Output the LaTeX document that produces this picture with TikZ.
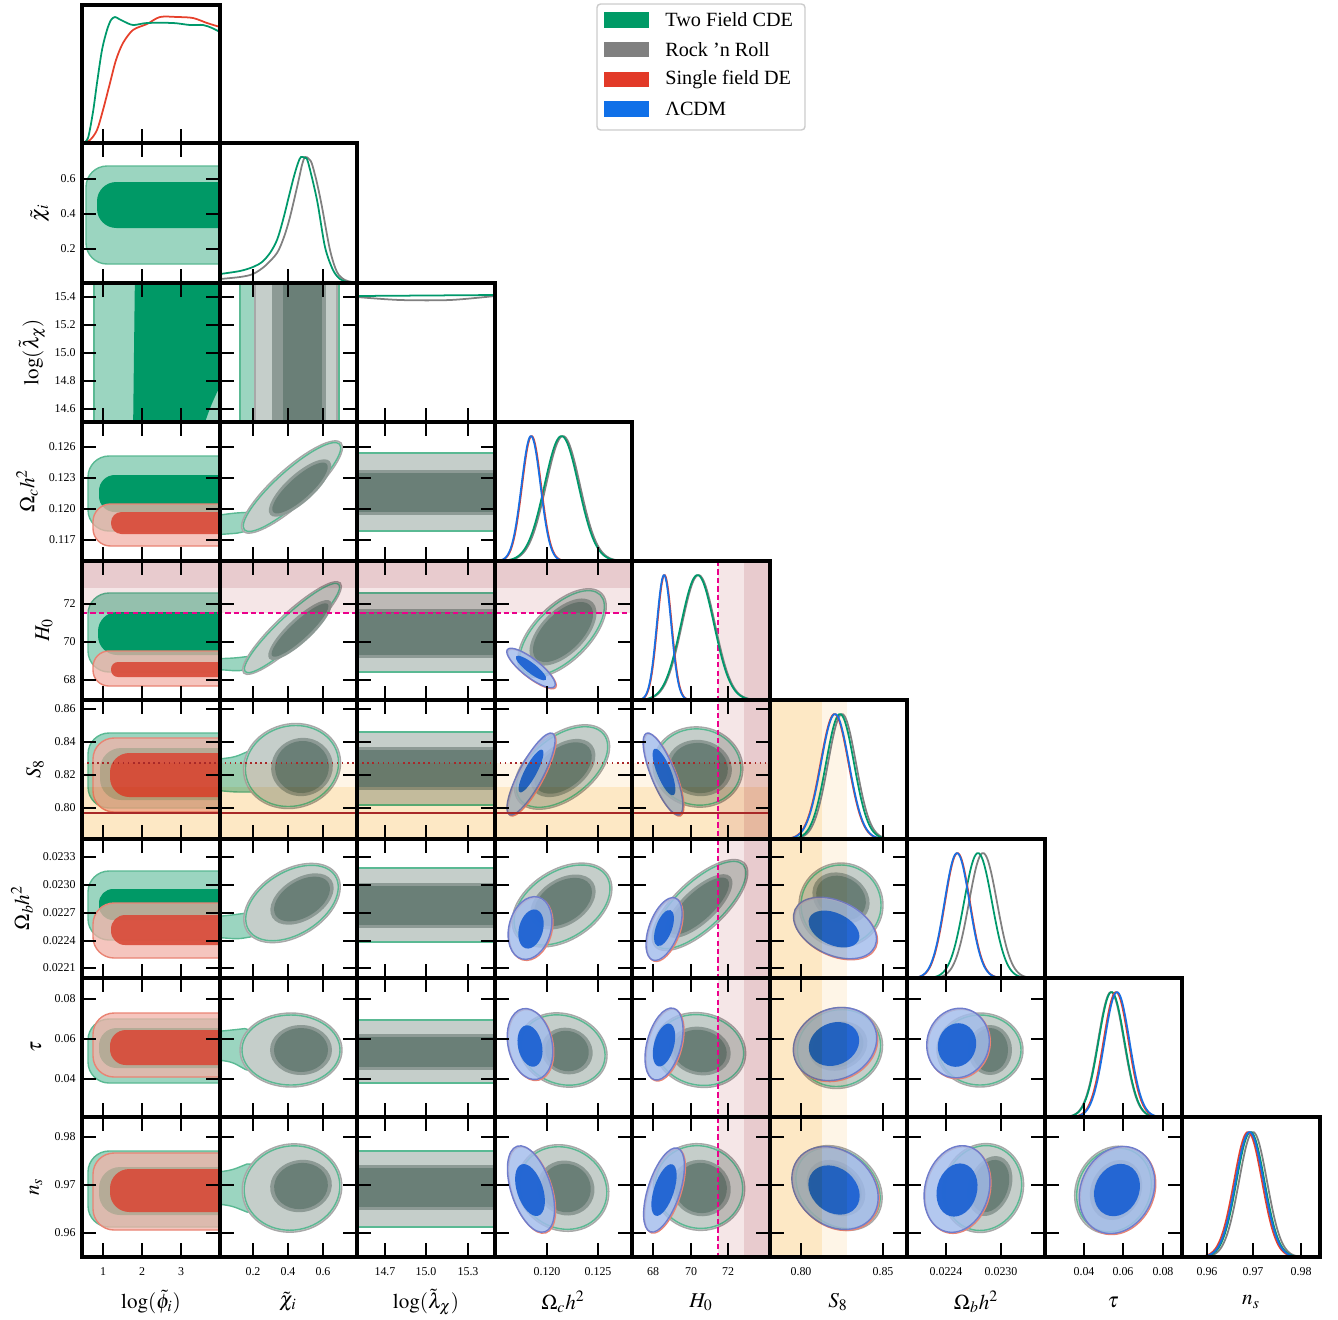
\documentclass[tikz,border=0pt]{standalone}
\usepackage{mathptmx}
\usepackage{fontspec}
\setmainfont{Liberation Serif}

\definecolor{gL}{HTML}{9BD5C0}
\definecolor{gD}{HTML}{009966}
\definecolor{gE}{HTML}{5AB993}
\definecolor{kL}{HTML}{C5CECA}
\definecolor{kE}{HTML}{A8A8A8}
\definecolor{kM}{HTML}{8D9A95}
\definecolor{kD}{HTML}{6A7F77}
\definecolor{rL}{HTML}{F2B2A8}
\definecolor{rD}{HTML}{D94A38}
\definecolor{rE}{HTML}{E98474}
\definecolor{bL}{HTML}{A2BCEC}
\definecolor{bD}{HTML}{1E63D3}
\definecolor{bE}{HTML}{6F7DCC}
\definecolor{gC}{HTML}{00996B}
\definecolor{kC}{HTML}{808080}
\definecolor{rC}{HTML}{E6402B}
\definecolor{bC}{HTML}{1A6FE3}
\definecolor{roseD}{HTML}{E8CBCE}
\definecolor{roseL}{HTML}{F5E6E7}
\definecolor{orng}{HTML}{FDE8C5}
\definecolor{crm}{HTML}{FEF5E7}
\definecolor{s8red}{HTML}{A82828}
\definecolor{lgG}{HTML}{009A66}
\definecolor{lgK}{HTML}{808080}
\definecolor{lgR}{HTML}{E23A28}
\definecolor{lgB}{HTML}{1070E8}

\tikzset{
  gout/.style={fill=gL, draw=gE, line width=0.8pt},
  gin/.style={fill=gD},
  kout/.style={fill=kL, draw=kE, line width=0.8pt},
  gedge/.style={draw=gE, line width=0.8pt},
  kring/.style={fill=kM},
  kin/.style={fill=kD},
  rout/.style={fill=rL, fill opacity=0.75, draw=rE, line width=0.8pt},
  rin/.style={fill=rD, fill opacity=0.9},
  redge/.style={draw=rE, line width=0.8pt},
  bout/.style={fill=bL, fill opacity=0.82, draw=bE, line width=0.8pt},
  bin/.style={fill=bD, fill opacity=0.95},
  tk/.style={line width=1.3pt},
  pframe/.style={line width=2pt},
  pline/.style={line width=1pt},
  ticklab/.style={font=\fontsize{6.8}{8}\selectfont, inner sep=0pt},
  axlab/.style={font=\fontsize{12}{14}\selectfont, inner sep=0pt},
  lgtext/.style={font=\fontsize{11.5}{13}\selectfont, anchor=west, inner sep=0pt},
}

% ellipse: style, cx, cy, rx, ry, angle
\newcommand{\elli}[6]{\path[#1, rotate around={#6:(#2,#3)}] (#2,#3) ellipse [x radius={#4}, y radius={#5}];}
% grey/green pair: outer cx cy rx ry angle, inner cx cy rx ry
\newcommand{\kgpair}[9]{\elli{kout}{#1}{#2}{#3}{#4}{#5}\elli{gedge}{#1}{#2}{#3-2}{#4-2}{#5}\elli{kring}{#6}{#7}{#8+4}{#9+3}{#5}\elli{kin}{#6}{#7}{#8}{#9}{#5}}
% blue/red pair
\newcommand{\blpair}[9]{\elli{redge}{#1+1}{#2+1}{#3}{#4}{#5}\elli{bout}{#1}{#2}{#3}{#4}{#5}\elli{bin}{#6}{#7}{#8}{#9}{#5}}
% flat band in the log(lambda) column
\newcommand{\kband}[4]{\path[kout, draw=gE] (350,#1) rectangle (502,#2); \path[kring] (350,#3-3) rectangle (502,#4+3); \path[kin] (350,#3) rectangle (502,#4);}
% 1d marginal: style, bottom, mean, sigma
\newcommand{\gcurve}[4]{\draw[#1] plot[domain=#3-4*#4:#3+4*#4, samples=80, smooth] (\x,{#2-125*exp(-0.5*((\x-#3)/#4)^2)});}

\begin{document}
\begin{tikzpicture}[x=0.02cm, y=-0.02cm]
\useasboundingbox (0,0) rectangle (1338,1319);

% column 1: log(phi)
\begin{scope}\clip (82,143) rectangle (220,283);
  \path[gout, rounded corners=12pt] (86,166) rectangle (240,264);
  \path[gin, rounded corners=11pt] (97,182) rectangle (240,228);
\end{scope}
\begin{scope}\clip (82,283) rectangle (220,422);
  \path[gout] (94,270) rectangle (240,435);
  \path[gin] (135,270) -- (133,435) -- (201,435) .. controls (210,405) and (217,392) .. (222,383) -- (240,383) -- (240,270) -- cycle;
\end{scope}
\begin{scope}\clip (82,422) rectangle (220,561);
  \path[gout, rounded corners=12pt] (88,456) rectangle (240,531);
  \path[gin, rounded corners=9pt] (99,475) rectangle (240,512);
  \path[rout, rounded corners=10pt] (93,504) rectangle (240,546);
  \path[rin, rounded corners=6pt] (111,512) rectangle (240,534);
\end{scope}
\begin{scope}\clip (82,561) rectangle (220,700);
  \path[gout, rounded corners=12pt] (88,593) rectangle (240,672);
  \path[gin, rounded corners=11pt] (98,612) rectangle (240,655);
  \path[rout, rounded corners=9pt] (93,651) rectangle (240,686);
  \path[rin, rounded corners=4pt] (111,662) rectangle (240,677);
\end{scope}
\begin{scope}\clip (82,700) rectangle (220,839);
  \path[gout, rounded corners=12pt] (88,733) rectangle (240,808);
  \path[gin, rounded corners=12pt] (100,748) rectangle (240,800);
  \path[rout, rounded corners=12pt] (93,738) rectangle (240,812);
  \path[rin, rounded corners=11pt] (110,753) rectangle (240,797);
\end{scope}
\begin{scope}\clip (82,839) rectangle (220,978);
  \path[gout, rounded corners=12pt] (88,871) rectangle (240,940);
  \path[gin, rounded corners=8pt] (99,889) rectangle (240,920);
  \path[rout, rounded corners=12pt] (93,903) rectangle (240,958);
  \path[rin, rounded corners=8pt] (111,915) rectangle (240,945);
\end{scope}
\begin{scope}\clip (82,978) rectangle (220,1117);
  \path[gout, rounded corners=12pt] (88,1019) rectangle (240,1083);
  \path[gin, rounded corners=10pt] (99,1028) rectangle (240,1068);
  \path[rout, rounded corners=12pt] (93,1013) rectangle (240,1077);
  \path[rin, rounded corners=9pt] (110,1030) rectangle (240,1065);
\end{scope}
\begin{scope}\clip (82,1117) rectangle (220,1257);
  \path[gout, rounded corners=12pt] (88,1151) rectangle (240,1227);
  \path[gin, rounded corners=12pt] (99,1167) rectangle (240,1215);
  \path[rout, rounded corners=12pt] (93,1153) rectangle (240,1230);
  \path[rin, rounded corners=11pt] (110,1169) rectangle (240,1212);
\end{scope}

% column 2: chi
\begin{scope}\clip (220,283) rectangle (357,422);
  \path[gout] (240,270) rectangle (339,435);
  \path[kout] (255,270) rectangle (337,435);
  \path[kring] (272,270) rectangle (326,435);
  \path[kin] (283,270) rectangle (322,435);
\end{scope}
\begin{scope}\clip (220,422) rectangle (357,561);
  \path[gout, rounded corners=3pt] (212,516) -- (235,513) -- (254,512) -- (260,526) -- (240,533) -- (212,535) -- cycle;
  \kgpair{292}{487}{66}{18}{42}{300}{488}{36}{11}
\end{scope}
\begin{scope}\clip (220,561) rectangle (357,700);
  \path[gout, rounded corners=3pt] (212,659) -- (235,658) -- (252,656) -- (258,668) -- (238,671) -- (212,669) -- cycle;
  \kgpair{292}{628}{66}{15}{43}{300}{630}{38}{9}
\end{scope}
\begin{scope}\clip (220,700) rectangle (357,839);
  \path[gout, rounded corners=3pt] (212,760) -- (235,757) -- (256,748) -- (256,792) -- (235,792) -- (212,790) -- cycle;
  \kgpair{292}{766}{49}{42}{15}{302}{767}{27}{26}
\end{scope}
\begin{scope}\clip (220,839) rectangle (357,978);
  \path[gout, rounded corners=3pt] (212,917) -- (232,915) -- (254,912) -- (256,936) -- (238,939) -- (212,937) -- cycle;
  \kgpair{292}{903}{53}{33}{32}{302}{899}{31}{18}
\end{scope}
\begin{scope}\clip (220,978) rectangle (357,1117);
  \path[gout, rounded corners=3pt] (212,1032) -- (232,1030) -- (250,1028) -- (250,1072) -- (232,1062) -- (212,1059) -- cycle;
  \kgpair{291}{1050}{51}{37}{0}{301}{1050}{27}{22}
\end{scope}
\begin{scope}\clip (220,1117) rectangle (357,1257);
  \path[gout, rounded corners=3pt] (212,1173) -- (232,1170) -- (252,1162) -- (252,1214) -- (232,1206) -- (212,1203) -- cycle;
  \kgpair{292}{1188}{50}{44}{10}{301}{1186}{27}{23}
\end{scope}

% column 3: log(lambda)
\begin{scope}\clip (357,422) rectangle (495,561); \kband{453}{531}{473}{512} \end{scope}
\begin{scope}\clip (357,561) rectangle (495,700); \kband{593}{672}{612}{655} \end{scope}
\begin{scope}\clip (357,700) rectangle (495,839); \kband{732}{805}{750}{787} \end{scope}
\begin{scope}\clip (357,839) rectangle (495,978); \kband{868}{942}{886}{925} \end{scope}
\begin{scope}\clip (357,978) rectangle (495,1117); \kband{1020}{1083}{1037}{1067} \end{scope}
\begin{scope}\clip (357,1117) rectangle (495,1257); \kband{1151}{1227}{1168}{1207} \end{scope}

% column 4: Omega_c h^2
\begin{scope}\clip (495,561) rectangle (632,700);
  \kgpair{562}{633}{56}{28}{45}{563}{632}{38}{19}
  \blpair{531}{668}{30}{9}{-38}{531}{668}{19}{5}
\end{scope}
\begin{scope}\clip (495,700) rectangle (632,839);
  \kgpair{562}{767}{55}{32}{38}{563}{768}{33}{20}
  \blpair{531}{774}{46}{12}{62}{531}{771}{24}{6}
\end{scope}
\begin{scope}\clip (495,839) rectangle (632,978);
  \kgpair{562}{905}{55}{35}{33}{563}{902}{32}{20}
  \blpair{530}{928}{32}{21}{75}{531}{929}{20}{12}
\end{scope}
\begin{scope}\clip (495,978) rectangle (632,1117);
  \kgpair{563}{1050}{45}{36}{-20}{567}{1051}{22}{20}
  \blpair{530}{1044}{36}{22}{102}{530}{1046}{21}{12}
\end{scope}
\begin{scope}\clip (495,1117) rectangle (632,1257);
  \kgpair{563}{1188}{47}{42}{-30}{566}{1188}{25}{24}
  \blpair{531}{1189}{45}{20}{108}{530}{1190}{27}{13}
\end{scope}

% column 5: H0
\begin{scope}\clip (632,700) rectangle (770,839);
  \kgpair{698}{767}{45}{40}{-10}{699}{768}{29}{25}
  \blpair{663}{774}{44}{12}{112}{664}{772}{25}{7}
\end{scope}
\begin{scope}\clip (632,839) rectangle (770,978);
  \kgpair{700}{905}{61}{25}{43}{699}{906}{39}{14}
  \blpair{664}{929}{33}{15}{70}{664}{928}{19}{8}
\end{scope}
\begin{scope}\clip (632,978) rectangle (770,1117);
  \kgpair{700}{1050}{46}{37}{-12}{700}{1051}{27}{21}
  \blpair{664}{1044}{37}{17}{75}{664}{1045}{22}{10}
\end{scope}
\begin{scope}\clip (632,1117) rectangle (770,1257);
  \kgpair{699}{1187}{46}{43}{-20}{701}{1188}{26}{25}
  \blpair{664}{1190}{44}{16}{72}{664}{1190}{27}{10}
\end{scope}

% column 6: S8
\begin{scope}\clip (770,839) rectangle (907,978);
  \kgpair{841}{905}{42}{42}{-30}{841}{898}{26}{21}
  \blpair{835}{928}{44}{27}{-25}{834}{929}{27}{16}
\end{scope}
\begin{scope}\clip (770,978) rectangle (907,1117);
  \kgpair{839}{1048}{44}{40}{20}{838}{1046}{26}{21}
  \blpair{835}{1044}{43}{35}{25}{834}{1044}{26}{21}
\end{scope}
\begin{scope}\clip (770,1117) rectangle (907,1257);
  \kgpair{838}{1188}{48}{38}{-40}{836}{1188}{28}{22}
  \blpair{835}{1188}{47}{37}{-40}{834}{1190}{28}{22}
\end{scope}

% column 7: Omega_b h^2
\begin{scope}\clip (907,978) rectangle (1045,1117);
  \kgpair{980}{1050}{43}{37}{0}{990}{1050}{18}{22}
  \blpair{958}{1043}{35}{31}{75}{957}{1045}{22}{19}
\end{scope}
\begin{scope}\clip (907,1117) rectangle (1045,1257);
  \kgpair{983}{1188}{45}{40}{70}{990}{1186}{27}{18}
  \blpair{957}{1189}{44}{32}{75}{957}{1190}{27}{20}
\end{scope}

% column 8: tau
\begin{scope}\clip (1045,1117) rectangle (1182,1257);
  \kgpair{1114}{1190}{45}{38}{65}{1116}{1190}{27}{22}
  \blpair{1117}{1190}{45}{36}{65}{1117}{1190}{27}{22}
\end{scope}

% H0 and S8 priors
\begin{scope}[blend mode=multiply]
  \fill[roseD] (82,561) rectangle (632,588);
  \fill[roseL] (82,588) rectangle (632,613);
  \fill[roseL] (718,561) rectangle (744,1257);
  \fill[roseD] (744,561) rectangle (770,1257);
  \fill[crm] (82,763) rectangle (770,787);
  \fill[orng] (82,787) rectangle (770,839);
  \fill[orng] (770,700) rectangle (822,1257);
  \fill[crm] (822,700) rectangle (847,1257);
\end{scope}
\draw[s8red, line width=1.1pt] (82,813) -- (770,813);
\draw[s8red, dotted, line width=0.9pt] (82,763) -- (770,763);
\draw[magenta, dash pattern=on 3pt off 1.8pt, line width=0.7pt] (82,613) -- (632,613);
\draw[magenta, dash pattern=on 3pt off 1.8pt, line width=0.7pt] (718,561) -- (718,1257);

% diagonal: 1d marginals
\begin{scope}\clip (82,5) rectangle (220,143);
  \draw[rC, pline] plot[smooth] coordinates {(82,143) (90,140) (97,130) (103,110) (110,83) (116,60) (123,43) (133,30) (147,24) (160,17) (177,17) (193,18) (207,23) (220,27)};
  \draw[gC, pline] plot[smooth] coordinates {(83,143) (88,138) (93,112) (97,83) (102,50) (107,30) (111,20) (115,17) (119,19) (123,21) (133,25) (147,23) (173,23) (190,25) (203,25) (212,28) (220,32)};
\end{scope}
\begin{scope}\clip (220,143) rectangle (357,283);
  \draw[kC, pline] plot[smooth] coordinates {(220,279) (240,277) (253,274) (265,266) (277,253) (284,237) (290,217) (298,183) (302,165) (305,157) (309,159) (312,164) (317,183) (322,207) (330,250) (337,272) (345,280) (357,283)};
  \draw[gC, pline] plot[smooth] coordinates {(220,274) (240,271) (253,267) (262,262) (270,253) (277,240) (283,220) (293,180) (298,163) (301,157) (305,158) (308,162) (317,200) (325,247) (333,270) (340,279) (347,282) (357,283)};
\end{scope}
\begin{scope}\clip (357,283) rectangle (495,422);
  \draw[kC, pline] plot[smooth] coordinates {(357,297) (400,300) (450,300) (495,296)};
  \draw[gC, pline] (357,296) -- (495,295);
\end{scope}
\begin{scope}\clip (495,422) rectangle (632,561);
  \gcurve{kC, pline}{561}{563}{17}
  \gcurve{gC, pline}{561}{561.5}{17}
  \gcurve{rC, pline}{561}{531.6}{9.5}
  \gcurve{bC, pline}{561}{531}{9.5}
\end{scope}
\begin{scope}\clip (632,561) rectangle (770,700);
  \gcurve{kC, pline}{700}{698.5}{16.5}
  \gcurve{gC, pline}{700}{697.5}{16.5}
  \gcurve{rC, pline}{700}{664.5}{7.2}
  \gcurve{bC, pline}{700}{664}{7.2}
\end{scope}
\begin{scope}\clip (770,700) rectangle (907,839);
  \gcurve{kC, pline}{839}{842}{14}
  \gcurve{gC, pline}{839}{840}{14}
  \gcurve{rC, pline}{839}{834.5}{14}
  \gcurve{bC, pline}{839}{835}{14}
\end{scope}
\begin{scope}\clip (907,839) rectangle (1045,978);
  \gcurve{kC, pline}{978}{983}{14}
  \gcurve{gC, pline}{978}{978}{14}
  \gcurve{rC, pline}{978}{957.5}{12.5}
  \gcurve{bC, pline}{978}{957}{12.5}
\end{scope}
\begin{scope}\clip (1045,978) rectangle (1182,1117);
  \gcurve{kC, pline}{1117}{1111}{13}
  \gcurve{gC, pline}{1117}{1111.5}{13}
  \gcurve{rC, pline}{1117}{1116}{12.5}
  \gcurve{bC, pline}{1117}{1117}{12.5}
\end{scope}
\begin{scope}\clip (1182,1117) rectangle (1320,1257);
  \gcurve{kC, pline}{1257}{1253}{14}
  \gcurve{gC, pline}{1257}{1250.5}{14}
  \gcurve{rC, pline}{1257}{1248}{14}
  \gcurve{bC, pline}{1257}{1249.5}{14}
\end{scope}

% ticks and frames
\foreach \c/\xa/\xb/\xt in {1/82/220/{103,142,181},2/220/357/{253,288,323},3/357/495/{385,426,468},4/495/632/{547,598},5/632/770/{653,691,728},6/770/907/{801,883},7/907/1045/{946,1001},8/1045/1182/{1084,1123,1163},9/1182/1320/{1207,1253,1301}}{
  \foreach \r/\ya/\yb/\yt in {1/5/143/{0},2/143/283/{179,214,249},3/283/422/{297,325,353,381,409},4/422/561/{447,478,509,540},5/561/700/{604,642,680},6/700/839/{709,742,775,808},7/839/978/{857,885,913,941,968},8/978/1117/{999,1039,1079},9/1117/1257/{1137,1185,1233}}{
    \ifnum\r>\c
      \foreach \t in \xt {\draw[tk] (\t,\ya) -- ++(0,14); \draw[tk] (\t,\yb) -- ++(0,-14);}
      \foreach \t in \yt {\draw[tk] (\xa,\t) -- ++(14,0); \draw[tk] (\xb,\t) -- ++(-14,0);}
      \draw[pframe] (\xa,\ya) rectangle (\xb,\yb);
    \fi
    \ifnum\r=\c
      \foreach \t in \xt {\draw[tk] (\t,\yb) -- ++(0,-14);}
      \draw[pframe] (\xa,\ya) rectangle (\xb,\yb);
    \fi
  }
}

% tick labels
\foreach \x/\lab [count=\i] in {103/1,142/2,181/3,253/0.2,288/0.4,323/0.6,385/14.7,426/15.0,468/15.3,547/0.120,598/0.125,653/68,691/70,728/72,801/0.80,883/0.85,946/0.0224,1001/0.0230,1084/0.04,1123/0.06,1163/0.08,1207/0.96,1253/0.97,1301/0.98}
  {\node[ticklab, anchor=base] (bt\i) at (\x,1275) {\lab};}
\foreach \y/\lab [count=\i] in {179/0.6,214/0.4,249/0.2,297/15.4,325/15.2,353/15.0,381/14.8,409/14.6,447/0.126,478/0.123,509/0.120,540/0.117,604/72,642/70,680/68,709/0.86,742/0.84,775/0.82,808/0.80,857/0.0233,885/0.0230,913/0.0227,941/0.0224,968/0.0221,999/0.08,1039/0.06,1079/0.04,1137/0.98,1185/0.97,1233/0.96}
  {\node[ticklab, anchor=east] (lt\i) at (76,\y) {\lab};}

% axis labels
\node[axlab] (xlPhi) at (151,1302) {$\log(\tilde{\phi}_i)$};
\node[axlab] (xlChi) at (288,1302) {$\tilde{\chi}_i$};
\node[axlab] (xlLam) at (426,1302) {$\log(\tilde{\lambda}_\chi)$};
\node[axlab] (xlOc) at (563,1302) {$\Omega_c h^2$};
\node[axlab] (xlH) at (701,1302) {$H_0$};
\node[axlab] (xlS) at (838,1302) {$S_8$};
\node[axlab] (xlOb) at (976,1302) {$\Omega_b h^2$};
\node[axlab] (xlTau) at (1113,1302) {$\tau$};
\node[axlab] (xlNs) at (1251,1302) {$n_s$};
\node[axlab, rotate=90] (ylChi) at (40,213) {$\tilde{\chi}_i$};
\node[axlab, rotate=90] (ylLam) at (32,352) {$\log(\tilde{\lambda}_\chi)$};
\node[axlab, rotate=90] (ylOc) at (27,491) {$\Omega_c h^2$};
\node[axlab, rotate=90] (ylH) at (44,630) {$H_0$};
\node[axlab, rotate=90] (ylS) at (35,769) {$S_8$};
\node[axlab, rotate=90] (ylOb) at (22,908) {$\Omega_b h^2$};
\node[axlab, rotate=90] (ylTau) at (36,1047) {$\tau$};
\node[axlab, rotate=90] (ylNs) at (36,1187) {$n_s$};

% legend
\draw[black!20, line width=0.8pt, fill=white, rounded corners=2pt] (597,4) rectangle (805,130);
\fill[lgG] (604,12) rectangle (649,28);
\fill[lgK] (604,42) rectangle (649,57);
\fill[lgR] (604,72) rectangle (649,87);
\fill[lgB] (604,101) rectangle (649,117);
\node[lgtext] (lgTwo) at (665,20) {Two Field CDE};
\node[lgtext] (lgRock) at (665,50) {Rock ’n Roll};
\node[lgtext] (lgSingle) at (665,80) {Single field DE};
\node[lgtext] (lgLCDM) at (665,109) {ΛCDM};
\end{tikzpicture}
\end{document}
